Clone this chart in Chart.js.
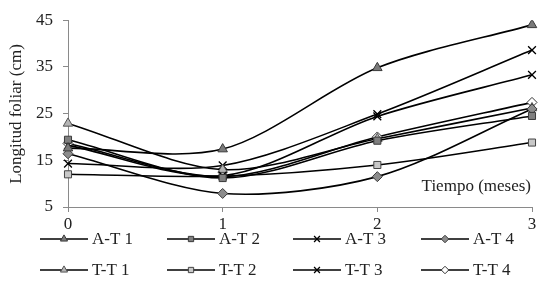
<!DOCTYPE html>
<html>
<head>
<meta charset="utf-8">
<script src="https://cdn.jsdelivr.net/npm/chart.js@4/dist/chart.umd.min.js"></script>
<style>
html,body{margin:0;padding:0;background:#fff;}
#wrap{position:relative;width:550px;height:296px;}
</style>
</head>
<body>
<div id="wrap"><canvas id="c" width="550" height="296"></canvas></div>
<script>
const categories = ['0', '1', '2', '3'];
const yTicks = [5, 15, 25, 35, 45];
const seriesNames = ['A-T 1', 'A-T 2', 'A-T 3', 'A-T 4', 'T-T 1', 'T-T 2', 'T-T 3', 'T-T 4'];
const AT1 = [17.6, 17.4, 34.8, 44.0];
const AT2 = [19.4, 11.2, 19.2, 24.5];
const AT3 = [18.2, 11.7, 24.4, 33.3];
const AT4 = [16.4, 7.9, 11.5, 26.0];
const TT1 = [22.9, 13.0, 19.6, 26.2];
const TT2 = [12.0, 11.6, 14.0, 18.8];
const TT3 = [14.3, 13.9, 24.9, 38.6];
const TT4 = [18.6, 11.5, 20.0, 27.4];
const xTitle = 'Tiempo (meses)';
const yTitle = 'Longitud foliar (cm)';

const values = [AT1, AT2, AT3, AT4, TT1, TT2, TT3, TT4];
const styles = [
  {ps:'triangle', bg:'#7a7a7a', bc:'#3a3a3a', r:5.5},
  {ps:'rect', bg:'#7f7f7f', bc:'#3a3a3a', r:5},
  {ps:'crossRot', bg:'#000', bc:'#000', r:5.5},
  {ps:'rectRot', bg:'#8c8c8c', bc:'#3a3a3a', r:5},
  {ps:'triangle', bg:'#b5b5b5', bc:'#555', r:5.5},
  {ps:'rect', bg:'#c8c8c8', bc:'#444', r:5},
  {ps:'crossRot', bg:'#000', bc:'#000', r:5.5},
  {ps:'rectRot', bg:'#ffffff', bc:'#333', r:5}
];
const FONT = '"Liberation Serif", "Times New Roman", serif';

const datasets = values.map((v, i) => ({
  label: seriesNames[i],
  data: v,
  borderColor: '#000',
  borderWidth: 1.6,
  tension: 0.3,
  pointStyle: styles[i].ps,
  pointRadius: styles[i].r,
  pointBackgroundColor: styles[i].bg,
  pointBorderColor: styles[i].bc,
  pointBorderWidth: styles[i].ps === 'crossRot' ? 1.3 : 1,
  fill: false
}));

const extras = {
  id: 'extras',
  afterDraw(chart) {
    const ctx = chart.ctx;
    const ca = chart.chartArea;
    ctx.save();
    ctx.fillStyle = '#222';
    ctx.font = '17px ' + FONT;
    ctx.textAlign = 'right';
    ctx.textBaseline = 'middle';
    ctx.fillText(xTitle, ca.right - 1, 187);
    ctx.save();
    ctx.translate(17, 114);
    ctx.rotate(-Math.PI / 2);
    ctx.textAlign = 'center';
    ctx.fillText(yTitle, 0, 0);
    ctx.restore();
    const cols = [40, 167, 293, 421];
    const rows = [239, 270];
    ctx.textAlign = 'left';
    chart.data.datasets.forEach((ds, i) => {
      const x0 = cols[i % 4];
      const y0 = rows[Math.floor(i / 4)];
      ctx.strokeStyle = '#000';
      ctx.lineWidth = 1.6;
      ctx.beginPath();
      ctx.moveTo(x0, y0);
      ctx.lineTo(x0 + 48, y0);
      ctx.stroke();
      ctx.fillStyle = ds.pointBackgroundColor;
      ctx.strokeStyle = ds.pointBorderColor;
      ctx.lineWidth = ds.pointBorderWidth;
      Chart.helpers.drawPoint(ctx, {pointStyle: ds.pointStyle, radius: ds.pointRadius * 0.75, rotation: 0, borderWidth: ds.pointBorderWidth}, x0 + 24, y0);
      ctx.fillStyle = '#222';
      ctx.fillText(ds.label, x0 + 52, y0 + 1);
    });
    ctx.restore();
  }
};

new Chart(document.getElementById('c'), {
  type: 'line',
  data: { labels: categories, datasets },
  plugins: [extras],
  options: {
    responsive: false,
    animation: false,
    layout: { padding: { left: 0, top: 10, right: 18, bottom: 0 } },
    plugins: { legend: { display: false }, tooltip: { enabled: false } },
    scales: {
      x: {
        type: 'category',
        offset: false,
        grid: { display: true, drawOnChartArea: false, drawTicks: true, tickLength: 5, color: '#8a8a8a' },
        border: { color: '#8a8a8a', width: 1 },
        ticks: { color: '#222', font: { family: FONT, size: 17 }, padding: 2, maxRotation: 0 },
        afterFit(s) { s.height = 89; }
      },
      y: {
        min: 5, max: 45,
        afterBuildTicks(s) { s.ticks = yTicks.map(v => ({ value: v })); },
        grid: { display: true, drawOnChartArea: false, drawTicks: true, tickLength: 5, color: '#8a8a8a' },
        border: { color: '#8a8a8a', width: 1 },
        ticks: { color: '#222', font: { family: FONT, size: 17 }, padding: 10 },
        afterFit(s) { s.width = 68; }
      }
    }
  }
});
</script>
</body>
</html>
